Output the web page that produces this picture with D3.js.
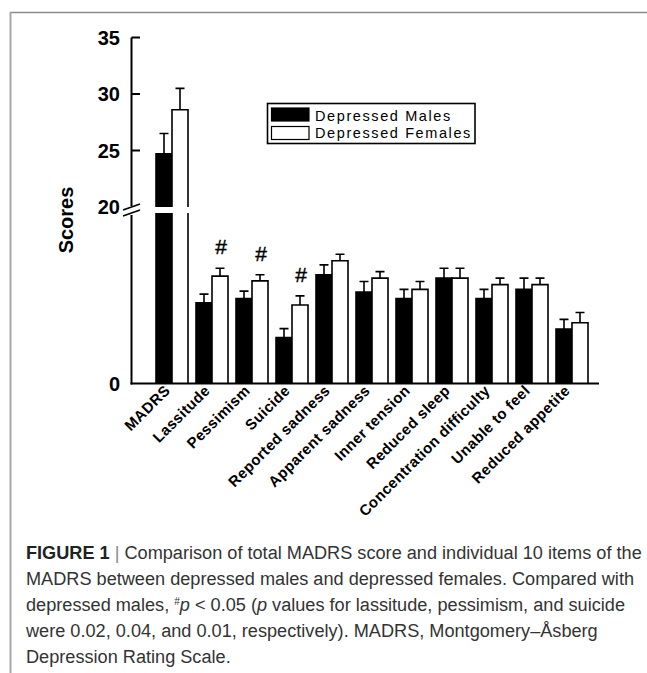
<!DOCTYPE html>
<html>
<head>
<meta charset="utf-8">
<script src="https://cdn.jsdelivr.net/npm/d3@7"></script>
<style>
  body { margin: 0; background: #fff; }
  svg { display: block; }
</style>
</head>
<body>
<div id="chart"></div>
<script>
// values (item scores on a 0-6 scale, MADRS total above the break)
const categories = ["MADRS", "Lassitude", "Pessimism", "Suicide", "Reported sadness", "Apparent sadness",
    "Inner tension", "Reduced sleep", "Concentration difficulty", "Unable to feel", "Reduced appetite"];
const maleMean = [24.7, 2.37, 2.49, 1.35, 3.19, 2.68, 2.49, 3.09, 2.49, 2.76, 1.60];
const maleSem = [1.8, 0.25, 0.22, 0.26, 0.29, 0.31, 0.27, 0.29, 0.27, 0.33, 0.28];
const femaleMean = [28.6, 3.15, 3.01, 2.30, 3.60, 3.09, 2.76, 3.09, 2.90, 2.90, 1.78];
const femaleSem = [1.9, 0.23, 0.18, 0.27, 0.19, 0.19, 0.23, 0.29, 0.19, 0.19, 0.30];
const significant = ["Lassitude", "Pessimism", "Suicide"];
const seriesNames = ["Depressed Males", "Depressed Females"];
const upperTicks = [20, 25, 30, 35];
const lowerTicks = [0];
const captionLines = [
    "Comparison of total MADRS score and individual 10 items of the",
    "MADRS between depressed males and depressed females. Compared with",
    "depressed males, ",
    "were 0.02, 0.04, and 0.01, respectively). MADRS, Montgomery–Åsberg",
    "Depression Rating Scale."
];

const W = 647, H = 673;
const svg = d3.select("#chart").append("svg")
    .attr("width", W)
    .attr("height", H);

// frame of the figure panel
svg.append("line").attr("x1", 10).attr("x2", W).attr("y1", 12.5).attr("y2", 12.5)
    .attr("stroke", "#8a8a8a").attr("stroke-width", 1.5);
svg.append("line").attr("x1", 10.5).attr("x2", 10.5).attr("y1", 12).attr("y2", H)
    .attr("stroke", "#a8a8a8").attr("stroke-width", 2);

const x = d3.scaleBand()
    .domain(categories)
    .range([132, 612])
    .paddingInner(0.2)
    .paddingOuter(0.6);

const sub = d3.scaleBand()
    .domain(["male", "female"])
    .range([0, x.bandwidth()]);

// broken axis: 0-5 below the break, 20-35 above it
const yLow = d3.scaleLinear().domain([0, 5]).range([383.5, 213]);
const yHigh = d3.scaleLinear().domain([20, 35]).range([207, 37.5]);
const yVal = v => v >= 20 ? yHigh(v) : yLow(Math.min(v, 5));

const rows = [];
categories.forEach((c, i) => {
    rows.push({ cat: c, key: "male", mean: maleMean[i], sem: maleSem[i] });
    rows.push({ cat: c, key: "female", mean: femaleMean[i], sem: femaleSem[i] });
});

const fillOf = k => k === "male" ? "#000" : "#fff";
const bw = sub.bandwidth();

const bars = svg.append("g");
rows.forEach(d => {
    const x0 = x(d.cat) + sub(d.key), x1 = x0 + bw;
    const base = yLow(0);
    let outline;
    if (d.mean >= 20) {
        bars.append("rect").attr("x", x0).attr("width", bw)
            .attr("y", yLow(5)).attr("height", base - yLow(5)).attr("fill", fillOf(d.key));
        bars.append("rect").attr("x", x0).attr("width", bw)
            .attr("y", yHigh(d.mean)).attr("height", yHigh(20) - yHigh(d.mean)).attr("fill", fillOf(d.key));
        outline = `M${x0},${base}V${yLow(5)}M${x1},${yLow(5)}V${base}` +
            `M${x0},${yHigh(20)}V${yHigh(d.mean)}H${x1}V${yHigh(20)}`;
    } else {
        bars.append("rect").attr("x", x0).attr("width", bw)
            .attr("y", yLow(d.mean)).attr("height", base - yLow(d.mean)).attr("fill", fillOf(d.key));
        outline = `M${x0},${base}V${yLow(d.mean)}H${x1}V${base}`;
    }
    bars.append("path").attr("d", outline)
        .attr("fill", "none").attr("stroke", "#000").attr("stroke-width", 1.6);

    // upward error bar
    const cx = x0 + bw / 2, top = yVal(d.mean + d.sem);
    bars.append("path")
        .attr("d", `M${cx},${yVal(d.mean)}V${top}M${cx - 4.5},${top}H${cx + 4.5}`)
        .attr("fill", "none").attr("stroke", "#000").attr("stroke-width", 1.6);
});

// significance marks
svg.append("g").selectAll("text")
    .data(significant)
    .enter()
    .append("text")
    .attr("x", d => x(d) + sub("female") + bw / 2 + 1)
    .attr("y", d => {
        const i = categories.indexOf(d);
        return yVal(femaleMean[i] + femaleSem[i]) - 14;
    })
    .attr("text-anchor", "middle")
    .style("font-family", "'Liberation Sans', Arial, sans-serif")
    .style("font-size", "21px")
    .style("stroke", "#000")
    .style("stroke-width", "0.4px")
    .text("#");

// axes
const axisG = svg.append("g")
    .style("font-family", "'Liberation Sans', Arial, sans-serif");

axisG.append("line")
    .attr("x1", 131.5).attr("x2", 131.5)
    .attr("y1", yHigh(35)).attr("y2", yHigh(20) - 1)
    .attr("stroke", "#000").attr("stroke-width", 2);
axisG.append("line")
    .attr("x1", 131.5).attr("x2", 131.5)
    .attr("y1", yLow(5) + 2).attr("y2", yLow(0) + 1)
    .attr("stroke", "#000").attr("stroke-width", 2);
axisG.append("line")
    .attr("x1", 130.5).attr("x2", 599)
    .attr("y1", yLow(0)).attr("y2", yLow(0))
    .attr("stroke", "#000").attr("stroke-width", 2);

// break marks
const bm = (yHigh(20) + yLow(5)) / 2;
[-3, 3].forEach(o => {
    axisG.append("line")
        .attr("x1", 123).attr("x2", 140)
        .attr("y1", bm + o + 3).attr("y2", bm + o - 3)
        .attr("stroke", "#000").attr("stroke-width", 1.6);
});

upperTicks.filter(t => t > 20).forEach(t => {
    axisG.append("line")
        .attr("x1", 131.5).attr("x2", 140)
        .attr("y1", yHigh(t)).attr("y2", yHigh(t))
        .attr("stroke", "#000").attr("stroke-width", 2);
});

const tickLabels = upperTicks.map(t => ({ t, y: yHigh(t) }))
    .concat(lowerTicks.map(t => ({ t, y: yLow(t) })));
axisG.selectAll(".ylab")
    .data(tickLabels)
    .enter()
    .append("text")
    .attr("class", "ylab")
    .attr("x", 120)
    .attr("y", d => d.y)
    .attr("dy", "0.36em")
    .attr("text-anchor", "end")
    .style("font-size", "20px")
    .style("font-weight", "bold")
    .text(d => d.t);

axisG.append("text")
    .attr("transform", "translate(73,220) rotate(-90)")
    .attr("text-anchor", "middle")
    .style("font-size", "20px")
    .style("font-weight", "bold")
    .text("Scores");

// category labels
axisG.selectAll(".xlab")
    .data(categories)
    .enter()
    .append("text")
    .attr("class", "xlab")
    .attr("text-anchor", "end")
    .attr("transform", d => `translate(${x(d) + x.bandwidth() / 2 - 1},${yLow(0) + 8}) rotate(-45)`)
    .style("font-size", "15px")
    .style("font-weight", "bold")
    .style("letter-spacing", "0.4px")
    .text(d => d);

// legend
const lg = svg.append("g")
    .style("font-family", "'Liberation Sans', Arial, sans-serif");
lg.append("rect")
    .attr("x", 267.5).attr("y", 103.5).attr("width", 207.5).attr("height", 40)
    .attr("fill", "#fff").attr("stroke", "#000").attr("stroke-width", 1.6);
seriesNames.forEach((name, i) => {
    lg.append("rect")
        .attr("x", 271.5).attr("y", 108 + i * 18.5).attr("width", 37.5).attr("height", 13)
        .attr("fill", i === 0 ? "#000" : "#fff")
        .attr("stroke", "#000").attr("stroke-width", 1.2);
    lg.append("text")
        .attr("x", 315).attr("y", 121 + i * 17)
        .style("font-size", "14.5px")
        .style("letter-spacing", "1.6px")
        .text(name);
});

// caption
const cap = svg.append("g")
    .style("font-family", "'Liberation Sans', Arial, sans-serif")
    .style("font-size", "16px")
    .attr("fill", "#333");
const capY = [559, 585, 611, 637, 663];

const l1 = cap.append("text").attr("x", 26).attr("y", capY[0]);
l1.append("tspan").style("font-weight", "bold").attr("fill", "#222").text("FIGURE 1");
l1.append("tspan").attr("fill", "#888").text(" | ");
l1.append("tspan").text(captionLines[0]);

cap.append("text").attr("x", 26).attr("y", capY[1]).text(captionLines[1]);

const l3 = cap.append("text").attr("x", 26).attr("y", capY[2]);
l3.append("tspan").text(captionLines[2]);
l3.append("tspan").attr("dy", -6).style("font-size", "10px").text("#");
l3.append("tspan").attr("dy", 6).style("font-style", "italic").text("p");
l3.append("tspan").text(" < 0.05 (");
l3.append("tspan").style("font-style", "italic").text("p");
l3.append("tspan").text(" values for lassitude, pessimism, and suicide");

cap.append("text").attr("x", 26).attr("y", capY[3]).text(captionLines[3]);
cap.append("text").attr("x", 26).attr("y", capY[4]).text(captionLines[4]);

// scale the caption font so the first line spans the column like the original
const natural = l1.node().getComputedTextLength();
cap.style("font-size", (16 * 616 / natural).toFixed(2) + "px");
</script>
</body>
</html>
